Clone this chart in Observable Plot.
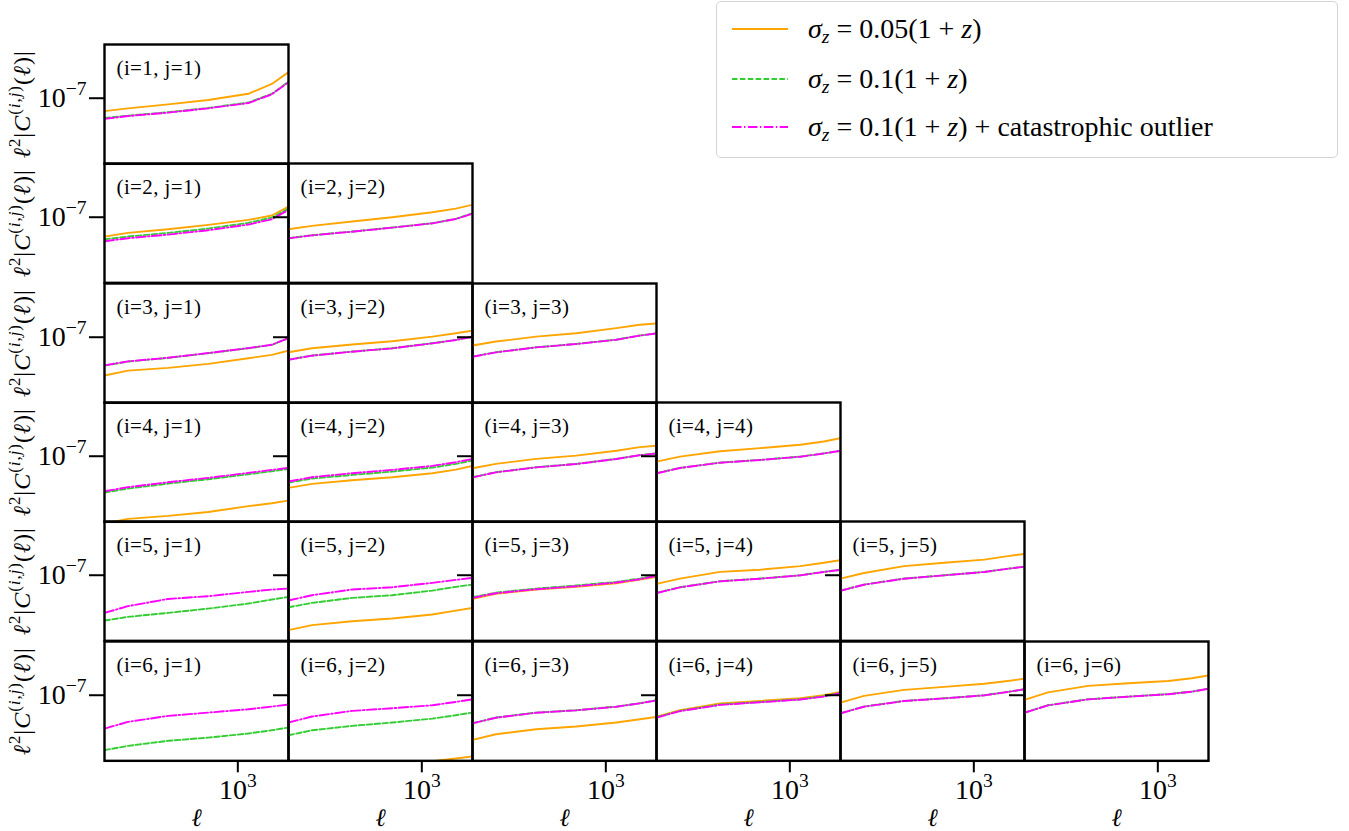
<!DOCTYPE html>
<html>
<head>
<meta charset="utf-8">
<script src="https://cdn.jsdelivr.net/npm/d3@7"></script>
<script src="https://cdn.jsdelivr.net/npm/@observablehq/plot@0.6"></script>
<style>
  html, body { margin: 0; padding: 0; background: #fff; overflow: hidden; }
  #chart { position: relative; width: 1349px; height: 831px; font-family: "Liberation Serif", serif; color: #000; }
  .panel { position: absolute; width: 184px; }
  #legend { position: absolute; left: 716px; top: 1px; width: 620px; height: 155px;
            border: 1px solid #d4d4d4; border-radius: 5px; background: rgba(255,255,255,0.85); }
  .entry { position: absolute; left: 0; height: 40px; display: flex; align-items: center; white-space: nowrap; }
  .entry svg { margin-left: 15px; }
  .entry span { margin-left: 20px; font-size: 28px; }
  .entry sub { font-size: 0.7em; vertical-align: -0.28em; line-height: 0; }
</style>
</head>
<body>
<div id="chart"></div>
<script>
// ---------------- data ----------------
const ell = [100, 150, 300, 600, 1200, 1800, 2400];
const panels = [[1,1],[2,1],[2,2],[3,1],[3,2],[3,3],[4,1],[4,2],[4,3],[4,4],
                [5,1],[5,2],[5,3],[5,4],[5,5],[6,1],[6,2],[6,3],[6,4],[6,5],[6,6]];

// sigma_z = 0.05(1+z)
const sigma005 = [
  [8.0e-8, 8.4e-8, 9.0e-8, 9.7e-8, 10.8e-8, 12.8e-8, 15.7e-8],
  [7.16e-8, 7.63e-8, 8.13e-8, 8.76e-8, 9.55e-8, 10.3e-8, 12.0e-8],
  [8.13e-8, 8.61e-8, 9.28e-8, 10.0e-8, 10.9e-8, 11.6e-8, 12.4e-8],
  [5.16e-8, 5.62e-8, 5.89e-8, 6.31e-8, 6.96e-8, 7.37e-8, 7.94e-8],
  [7.72e-8, 8.27e-8, 8.81e-8, 9.33e-8, 10.1e-8, 10.7e-8, 11.2e-8],
  [8.66e-8, 9.28e-8, 10.1e-8, 10.7e-8, 11.7e-8, 12.4e-8, 12.7e-8],
  [3.12e-8, 3.39e-8, 3.57e-8, 3.82e-8, 4.22e-8, 4.44e-8, 4.65e-8],
  [5.79e-8, 6.2e-8, 6.61e-8, 6.96e-8, 7.46e-8, 7.94e-8, 8.46e-8],
  [8.13e-8, 8.76e-8, 9.55e-8, 10.1e-8, 11.0e-8, 11.7e-8, 12.0e-8],
  [9.12e-8, 9.94e-8, 10.9e-8, 11.5e-8, 12.2e-8, 12.9e-8, 13.65e-8],
  [2.3e-8, 2.45e-8, 2.6e-8, 2.75e-8, 2.95e-8, 3.05e-8, 3.15e-8],
  [3.87e-8, 4.22e-8, 4.52e-8, 4.73e-8, 5.07e-8, 5.43e-8, 5.69e-8],
  [6.64e-8, 7.24e-8, 7.81e-8, 8.18e-8, 8.71e-8, 9.28e-8, 9.72e-8],
  [8.61e-8, 9.44e-8, 10.6e-8, 11.0e-8, 11.7e-8, 12.4e-8, 12.96e-8],
  [9.44e-8, 10.4e-8, 11.7e-8, 12.4e-8, 13.1e-8, 13.9e-8, 14.45e-8],
  [2.0e-8, 2.1e-8, 2.25e-8, 2.35e-8, 2.5e-8, 2.6e-8, 2.7e-8],
  [2.4e-8, 2.55e-8, 2.75e-8, 2.95e-8, 3.2e-8, 3.35e-8, 3.47e-8],
  [4.62e-8, 5.1e-8, 5.56e-8, 5.82e-8, 6.24e-8, 6.61e-8, 6.88e-8],
  [6.92e-8, 7.72e-8, 8.66e-8, 9.07e-8, 9.49e-8, 10.0e-8, 10.6e-8],
  [8.81e-8, 9.89e-8, 10.96e-8, 11.55e-8, 12.2e-8, 12.8e-8, 13.3e-8],
  [9.23e-8, 10.5e-8, 11.75e-8, 12.3e-8, 12.8e-8, 13.4e-8, 14.1e-8]
];

// sigma_z = 0.1(1+z)
const sigma01 = [
  [7.1e-8, 7.4e-8, 7.85e-8, 8.46e-8, 9.28e-8, 10.8e-8, 13.3e-8],
  [6.84e-8, 7.16e-8, 7.63e-8, 8.22e-8, 9.07e-8, 9.94e-8, 11.6e-8],
  [6.96e-8, 7.33e-8, 7.81e-8, 8.37e-8, 9.02e-8, 9.72e-8, 10.7e-8],
  [6.13e-8, 6.57e-8, 7.0e-8, 7.59e-8, 8.27e-8, 8.76e-8, 9.83e-8],
  [6.8e-8, 7.29e-8, 7.81e-8, 8.27e-8, 9.02e-8, 9.55e-8, 10.1e-8],
  [7.16e-8, 7.72e-8, 8.41e-8, 8.91e-8, 9.6e-8, 10.3e-8, 10.7e-8],
  [5.34e-8, 5.72e-8, 6.23e-8, 6.72e-8, 7.33e-8, 7.72e-8, 8.03e-8],
  [6.34e-8, 6.8e-8, 7.24e-8, 7.67e-8, 8.22e-8, 8.76e-8, 9.28e-8],
  [6.96e-8, 7.59e-8, 8.27e-8, 8.76e-8, 9.55e-8, 10.2e-8, 10.5e-8],
  [7.46e-8, 8.18e-8, 8.96e-8, 9.39e-8, 9.94e-8, 10.5e-8, 11.0e-8],
  [4.57e-8, 4.87e-8, 5.22e-8, 5.62e-8, 6.13e-8, 6.57e-8, 6.88e-8],
  [5.75e-8, 6.2e-8, 6.76e-8, 7.08e-8, 7.67e-8, 8.18e-8, 8.51e-8],
  [6.84e-8, 7.41e-8, 7.94e-8, 8.37e-8, 8.91e-8, 9.44e-8, 10.0e-8],
  [7.37e-8, 8.13e-8, 9.02e-8, 9.44e-8, 10.0e-8, 10.6e-8, 11.0e-8],
  [7.67e-8, 8.51e-8, 9.44e-8, 10.0e-8, 10.6e-8, 11.2e-8, 11.6e-8],
  [3.87e-8, 4.17e-8, 4.55e-8, 4.81e-8, 5.16e-8, 5.46e-8, 5.72e-8],
  [5.01e-8, 5.46e-8, 5.89e-8, 6.24e-8, 6.68e-8, 7.08e-8, 7.41e-8],
  [6.17e-8, 6.8e-8, 7.41e-8, 7.72e-8, 8.22e-8, 8.71e-8, 9.17e-8],
  [6.84e-8, 7.63e-8, 8.51e-8, 8.91e-8, 9.33e-8, 9.83e-8, 10.4e-8],
  [7.33e-8, 8.22e-8, 9.07e-8, 9.49e-8, 10.0e-8, 10.6e-8, 11.1e-8],
  [7.41e-8, 8.41e-8, 9.33e-8, 9.77e-8, 10.2e-8, 10.65e-8, 11.2e-8]
];

// sigma_z = 0.1(1+z) + catastrophic outlier
const sigma01cat = [
  [7.0e-8, 7.35e-8, 7.8e-8, 8.4e-8, 9.2e-8, 10.7e-8, 13.2e-8],
  [6.61e-8, 6.96e-8, 7.41e-8, 7.99e-8, 8.81e-8, 9.66e-8, 11.35e-8],
  [6.94e-8, 7.31e-8, 7.79e-8, 8.35e-8, 9.0e-8, 9.7e-8, 10.65e-8],
  [6.15e-8, 6.59e-8, 7.02e-8, 7.61e-8, 8.29e-8, 8.78e-8, 9.85e-8],
  [6.78e-8, 7.27e-8, 7.79e-8, 8.25e-8, 9.0e-8, 9.53e-8, 10.08e-8],
  [7.14e-8, 7.7e-8, 8.39e-8, 8.89e-8, 9.58e-8, 10.28e-8, 10.68e-8],
  [5.46e-8, 5.86e-8, 6.38e-8, 6.88e-8, 7.5e-8, 7.9e-8, 8.18e-8],
  [6.46e-8, 6.96e-8, 7.46e-8, 7.9e-8, 8.46e-8, 9.02e-8, 9.55e-8],
  [6.94e-8, 7.57e-8, 8.25e-8, 8.74e-8, 9.53e-8, 10.18e-8, 10.48e-8],
  [7.44e-8, 8.16e-8, 8.94e-8, 9.37e-8, 9.92e-8, 10.48e-8, 10.98e-8],
  [5.22e-8, 5.86e-8, 6.64e-8, 6.96e-8, 7.5e-8, 7.81e-8, 7.94e-8],
  [6.46e-8, 7.08e-8, 7.81e-8, 8.13e-8, 8.76e-8, 9.23e-8, 9.55e-8],
  [6.76e-8, 7.33e-8, 7.85e-8, 8.27e-8, 8.81e-8, 9.33e-8, 9.89e-8],
  [7.35e-8, 8.11e-8, 9.0e-8, 9.42e-8, 9.98e-8, 10.58e-8, 10.98e-8],
  [7.65e-8, 8.49e-8, 9.42e-8, 9.98e-8, 10.58e-8, 11.18e-8, 11.58e-8],
  [5.62e-8, 6.31e-8, 7.0e-8, 7.41e-8, 7.85e-8, 8.22e-8, 8.51e-8],
  [6.24e-8, 6.92e-8, 7.63e-8, 7.99e-8, 8.41e-8, 8.91e-8, 9.33e-8],
  [6.15e-8, 6.78e-8, 7.39e-8, 7.7e-8, 8.2e-8, 8.69e-8, 9.15e-8],
  [6.8e-8, 7.59e-8, 8.46e-8, 8.86e-8, 9.28e-8, 9.77e-8, 10.35e-8],
  [7.31e-8, 8.2e-8, 9.05e-8, 9.47e-8, 9.98e-8, 10.58e-8, 11.08e-8],
  [7.39e-8, 8.39e-8, 9.31e-8, 9.75e-8, 10.18e-8, 10.63e-8, 11.18e-8]
];

const seriesLabels = [
  '<i>σ</i><sub><i>z</i></sub> = 0.05(1 + <i>z</i>)',
  '<i>σ</i><sub><i>z</i></sub> = 0.1(1 + <i>z</i>)',
  '<i>σ</i><sub><i>z</i></sub> = 0.1(1 + <i>z</i>) + catastrophic outlier'
];
const seriesColors = ["#FFA500", "#32CD32", "#FF00FF"];
const seriesDash = ["none", "5.5,2.4", "9.6,2.4,1.5,2.4"];
const xTicks = [1000];
const yTicks = [1e-7];
const xDomain = [100, 2400];
const yDomain = [3.22e-8, 2.53e-7];
const yLabelParts = [
  {t: "ℓ", it: 1}, {t: "2", sup: 1}, {t: "|"}, {t: "C", it: 1},
  {t: "(", sup: 1}, {t: "i", sup: 1, it: 1}, {t: ",", sup: 1}, {t: "j", sup: 1, it: 1}, {t: ")", sup: 1},
  {t: "("}, {t: "ℓ", it: 1}, {t: ")|"}
];
const xLabel = "ℓ";

// ---------------- layout ----------------
const W = 184, H = 119.33, X0 = 104, Y0 = 44;
const FS_TICK = 28, FS_PANEL = 21, FS_YLAB = 24, FS_XLAB = 25;
const SVGNS = "http://www.w3.org/2000/svg";

function setRich(el, parts, fs, base = 0) {
  while (el.firstChild) el.removeChild(el.firstChild);
  el.setAttribute("font-size", fs);
  el.style.fontSize = fs + "px";
  let cur = 0;
  for (const p of parts) {
    const t = document.createElementNS(SVGNS, "tspan");
    t.textContent = p.t;
    const target = base + (p.sup ? -0.42 * fs : 0);
    const dy = target - cur;
    if (dy !== 0) t.setAttribute("dy", dy.toFixed(2));
    cur = target;
    if (p.sup) t.setAttribute("font-size", (0.7 * fs).toFixed(2));
    if (p.it) t.setAttribute("font-style", "italic");
    el.appendChild(t);
  }
}

const chart = document.getElementById("chart");
const powFormat = d => "10^" + Math.round(Math.log10(d));

panels.forEach(([i, j], k) => {
  const sets = [sigma005[k], sigma01[k], sigma01cat[k]];
  const marks = [];
  sets.forEach((vals, s) => {
    const rows = vals.map((v, n) => ({ell: ell[n], v}));
    marks.push(Plot.line(rows, {
      x: "ell", y: "v", stroke: seriesColors[s], strokeWidth: 1.9,
      strokeDasharray: seriesDash[s], clip: true
    }));
  });
  marks.push(Plot.frame({stroke: "black", strokeWidth: 2.4}));
  marks.push(Plot.axisY({
    ticks: yTicks, tickSize: 15, tickPadding: 3, strokeWidth: 2, label: null,
    fontSize: FS_TICK, tickFormat: j === 1 ? powFormat : () => ""
  }));
  if (i === 6) {
    marks.push(Plot.axisX({
      ticks: xTicks, tickSize: 12, tickPadding: 6, strokeWidth: 2, label: null,
      fontSize: FS_TICK, tickFormat: powFormat
    }));
    marks.push(Plot.text([xLabel], {
      text: d => d, frameAnchor: "bottom", dy: 57, textAnchor: "middle", lineAnchor: "middle",
      fontSize: FS_XLAB, fontStyle: "italic"
    }));
  }
  marks.push(Plot.text([`(i=${i}, j=${j})`], {
    text: d => d, frameAnchor: "top-left", dx: 12, dy: 24, textAnchor: "start", lineAnchor: "middle",
    fontSize: FS_PANEL
  }));
  if (j === 1) {
    marks.push(Plot.text(["__YLABEL__"], {
      text: d => d, frameAnchor: "left", dx: -82, rotate: -90, textAnchor: "middle", lineAnchor: "middle",
      fontSize: FS_YLAB
    }));
  }
  const svg = Plot.plot({
    width: W, height: H, margin: 0,
    x: {type: "log", domain: xDomain, label: null, axis: i === 6 ? undefined : null},
    y: {type: "log", domain: yDomain, label: null},
    style: "background: transparent; overflow: visible; font-family: 'Liberation Serif', serif; font-size: 18px; color: black;",
    marks
  });
  svg.querySelectorAll("text").forEach(el => {
    const s = el.textContent;
    const m = s.match(/^10\^(-?\d+)$/);
    if (m) {
      const e = m[1].replace("-", "\u2212");
      setRich(el, [{t: "10"}, {t: e, sup: 1}], FS_TICK, 0);
    } else if (s === "__YLABEL__") {
      el.setAttribute("letter-spacing", "1");
      setRich(el, yLabelParts, FS_YLAB);
    } else if (/^\(i=/.test(s)) {
      el.setAttribute("letter-spacing", "0.4");
    }
  });
  const div = document.createElement("div");
  div.className = "panel";
  div.style.left = (X0 + (j - 1) * W) + "px";
  div.style.top = (Y0 + (i - 1) * H) + "px";
  div.appendChild(svg);
  chart.appendChild(div);
});

// ---------------- legend ----------------
const legend = document.createElement("div");
legend.id = "legend";
const entryCenters = [27, 77, 125];
seriesLabels.forEach((lab, s) => {
  const e = document.createElement("div");
  e.className = "entry";
  e.style.top = (entryCenters[s] - 20) + "px";
  const sv = document.createElementNS(SVGNS, "svg");
  sv.setAttribute("width", 56); sv.setAttribute("height", 10);
  const ln = document.createElementNS(SVGNS, "line");
  ln.setAttribute("x1", 0); ln.setAttribute("x2", 56); ln.setAttribute("y1", 5); ln.setAttribute("y2", 5);
  ln.setAttribute("stroke", seriesColors[s]); ln.setAttribute("stroke-width", 1.9);
  if (seriesDash[s] !== "none") ln.setAttribute("stroke-dasharray", seriesDash[s]);
  sv.appendChild(ln);
  const sp = document.createElement("span");
  sp.innerHTML = lab;
  e.appendChild(sv); e.appendChild(sp);
  legend.appendChild(e);
});
chart.appendChild(legend);
</script>
</body>
</html>
